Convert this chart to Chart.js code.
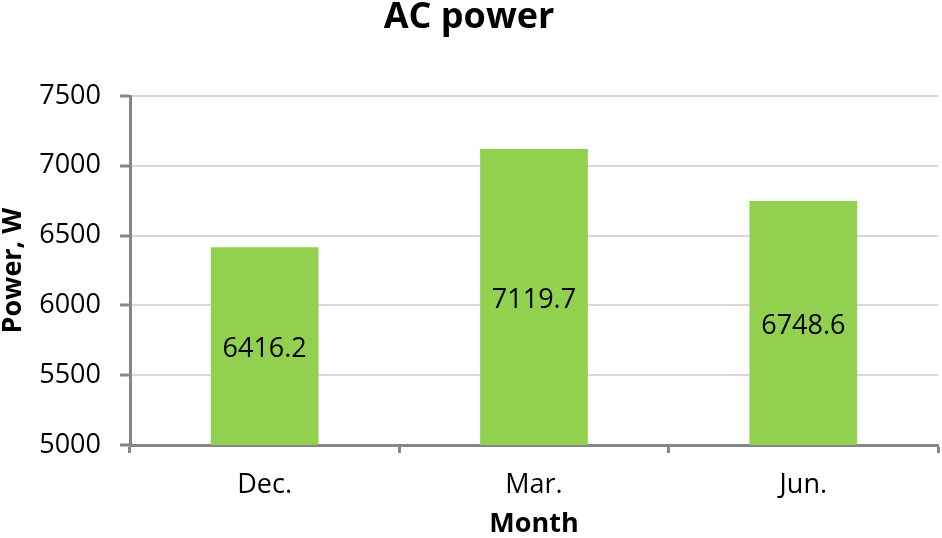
<!DOCTYPE html>
<html>
<head>
<meta charset="utf-8">
<script src="https://cdn.jsdelivr.net/npm/chart.js@4"></script>
<style>
  html, body { margin: 0; padding: 0; background: #fff; }
  #wrap { width: 942px; height: 538px; }
</style>
</head>
<body>
<div id="wrap"><canvas id="chart" width="942" height="538"></canvas></div>
<script>
const months = ['Dec.', 'Mar.', 'Jun.'];
const acPower = [6416.2, 7119.7, 6748.6];
const yMin = 5000, yMax = 7500, yStep = 500;

const FONT = '"Open Sans", "Liberation Sans", sans-serif';
const AXIS_GRAY = '#868686';

// draws the value in the middle of each bar
const barLabels = {
  id: 'barLabels',
  afterDraw(chart) {
    const ctx = chart.ctx;
    const meta = chart.getDatasetMeta(0);
    const yScale = chart.scales.y;
    const basePx = yScale.getPixelForValue(yMin);
    ctx.save();
    ctx.font = '27px ' + FONT;
    ctx.fillStyle = '#000000';
    ctx.textAlign = 'center';
    ctx.textBaseline = 'middle';
    meta.data.forEach(function(bar, i) {
      const topPx = yScale.getPixelForValue(acPower[i]);
      const mid = (topPx + basePx) / 2;
      ctx.fillText(acPower[i].toFixed(1), bar.x, mid + 3);
    });
    ctx.restore();
  }
};

new Chart(document.getElementById('chart'), {
  type: 'bar',
  data: {
    labels: months,
    datasets: [{
      label: 'AC power',
      data: acPower,
      backgroundColor: '#92D050',
      borderWidth: 0,
      barPercentage: 0.4,
      categoryPercentage: 1
    }]
  },
  options: {
    responsive: false,
    animation: false,
    layout: { padding: { left: 0, right: 4, top: 0, bottom: 0 } },
    plugins: {
      legend: { display: false },
      tooltip: { enabled: false },
      title: {
        display: true,
        text: 'AC power',
        color: '#000',
        font: { family: FONT, size: 36, weight: 'bold', lineHeight: 1 },
        padding: { top: 0, bottom: 60 }
      }
    },
    scales: {
      x: {
        grid: {
          offset: true,
          drawOnChartArea: false,
          drawTicks: true,
          tickLength: 8,
          tickColor: AXIS_GRAY,
          tickWidth: 3
        },
        border: { color: AXIS_GRAY, width: 3 },
        ticks: { color: '#000', font: { family: FONT, size: 27 }, padding: 16 },
        title: {
          display: true,
          text: 'Month',
          color: '#000',
          font: { family: FONT, size: 27, weight: 'bold', lineHeight: 1 },
          padding: { top: 0, bottom: 0 }
        },
        afterFit(scale) { scale.height = 93; }
      },
      y: {
        min: yMin,
        max: yMax,
        grid: {
          color: '#d9d9d9',
          lineWidth: 2,
          drawTicks: true,
          tickLength: 10,
          tickColor: AXIS_GRAY,
          tickWidth: 3
        },
        border: { color: AXIS_GRAY, width: 3 },
        ticks: {
          stepSize: yStep,
          color: '#000',
          font: { family: FONT, size: 27 },
          padding: 19,
          callback: function(v) { return String(v); }
        },
        title: {
          display: true,
          text: 'Power, W',
          color: '#000',
          font: { family: FONT, size: 27, weight: 'bold', lineHeight: 1 },
          padding: { top: 0, bottom: 0 }
        },
        afterFit(scale) { scale.width = 130; }
      }
    }
  },
  plugins: [barLabels]
});
</script>
</body>
</html>
